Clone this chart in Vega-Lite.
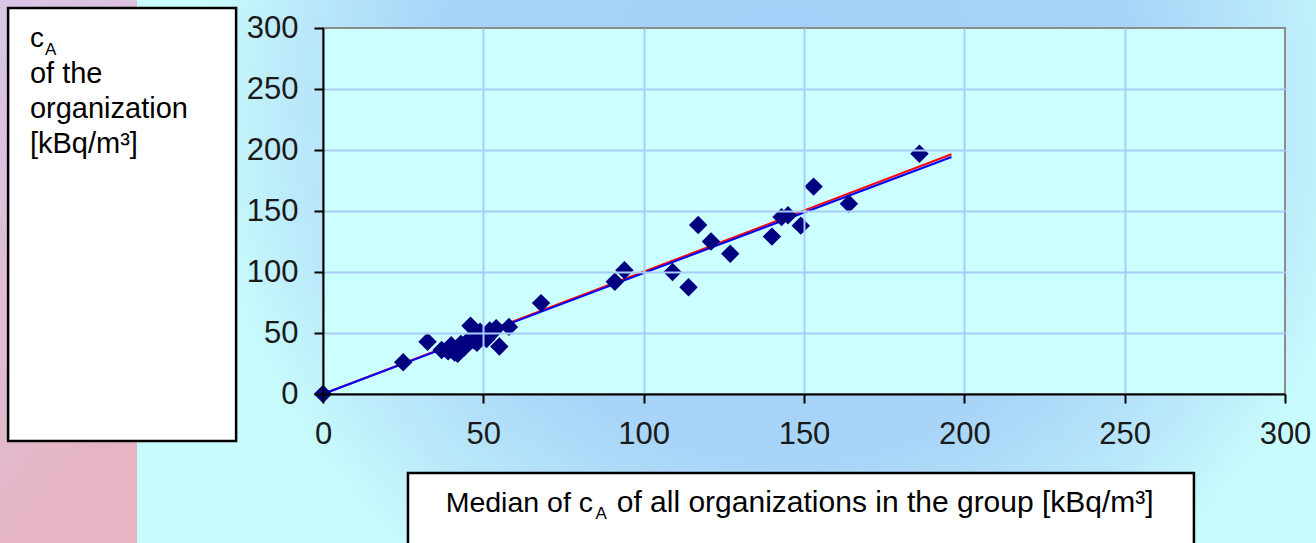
{
  "$schema": "https://vega.github.io/schema/vega-lite/v6.json",
  "width": 962,
  "height": 366,
  "autosize": {"type": "none"},
  "padding": {"left": 323, "top": 28, "right": 31, "bottom": 149},
  "background": "#c8fcfc",
  "config": {"view": {"stroke": null}},
  "datasets": {
    "points": [
      {"median": 0, "org": 0},
      {"median": 25, "org": 26},
      {"median": 32.6, "org": 42.9},
      {"median": 37, "org": 36},
      {"median": 39, "org": 35},
      {"median": 40, "org": 40},
      {"median": 41, "org": 34},
      {"median": 42, "org": 33},
      {"median": 43, "org": 41},
      {"median": 44, "org": 38},
      {"median": 45, "org": 43},
      {"median": 46, "org": 56},
      {"median": 47, "org": 44},
      {"median": 48, "org": 47},
      {"median": 48, "org": 42},
      {"median": 49, "org": 51},
      {"median": 50, "org": 48},
      {"median": 51, "org": 45},
      {"median": 52, "org": 52},
      {"median": 53, "org": 51},
      {"median": 54, "org": 54},
      {"median": 55, "org": 39},
      {"median": 58, "org": 55},
      {"median": 68, "org": 74.5},
      {"median": 91, "org": 92},
      {"median": 94, "org": 101.5},
      {"median": 109, "org": 100},
      {"median": 114, "org": 87.5},
      {"median": 117, "org": 138.5},
      {"median": 121, "org": 125},
      {"median": 127, "org": 115},
      {"median": 140, "org": 129},
      {"median": 143, "org": 145},
      {"median": 145, "org": 146.5},
      {"median": 149, "org": 138},
      {"median": 153, "org": 170},
      {"median": 164, "org": 156},
      {"median": 186, "org": 197}
    ],
    "lines": [
      {"fit": "red", "median": 0, "org": 0},
      {"fit": "red", "median": 196, "org": 196.5},
      {"fit": "blue", "median": 0, "org": 0},
      {"fit": "blue", "median": 196, "org": 194.3}
    ]
  },
  "layer": [
    {
      "data": {"values": [{}]},
      "mark": {"type": "rect", "fill": {"gradient": "linear", "x1": 0, "y1": 0, "x2": 0.3, "y2": 1, "stops": [{"offset": 0, "color": "#d8c6e8"}, {"offset": 1, "color": "#e6b4c2"}]}},
      "encoding": {
        "x": {"datum": -101, "type": "quantitative", "scale": {"domain": [0, 300], "nice": false}},
        "x2": {"datum": -58},
        "y": {"datum": 323, "type": "quantitative", "scale": {"domain": [0, 300], "nice": false}},
        "y2": {"datum": -123}
      }
    },
    {
      "data": {"values": [{}]},
      "mark": {"type": "rect", "fill": {"gradient": "radial", "x1": 0.55, "y1": 0.36, "r1": 0, "x2": 0.55, "y2": 0.36, "r2": 0.5, "stops": [{"offset": 0, "color": "#a2cef8"}, {"offset": 0.6, "color": "#a8d4f8"}, {"offset": 0.85, "color": "#bceafa"}, {"offset": 1, "color": "#c8fcfc"}]}},
      "encoding": {
        "x": {"datum": -58, "type": "quantitative"},
        "x2": {"datum": 311},
        "y": {"datum": 323, "type": "quantitative"},
        "y2": {"datum": -123}
      }
    },
    {
      "data": {"values": [{}]},
      "mark": {"type": "rect", "fill": "#ccffff", "stroke": "#8c8c8c", "strokeWidth": 2},
      "encoding": {
        "x": {"datum": 0, "type": "quantitative"},
        "x2": {"datum": 300},
        "y": {"datum": 0, "type": "quantitative"},
        "y2": {"datum": 300}
      }
    },
    {
      "data": {"values": [{}]},
      "mark": {"type": "rect", "fill": "#ffffff", "stroke": "#000000", "strokeWidth": 2.5},
      "encoding": {
        "x": {"datum": -98.2, "type": "quantitative"},
        "x2": {"datum": -27.1},
        "y": {"datum": 316.4, "type": "quantitative"},
        "y2": {"datum": -38.5}
      }
    },
    {
      "data": {"values": [{}]},
      "mark": {"type": "rect", "fill": "#ffffff", "stroke": "#000000", "strokeWidth": 2.5},
      "encoding": {
        "x": {"datum": 26.5, "type": "quantitative"},
        "x2": {"datum": 271.6},
        "y": {"datum": -64.8, "type": "quantitative"},
        "y2": {"datum": -135}
      }
    },
    {
      "data": {"values": [{}]},
      "mark": {"type": "text", "text": "c", "font": "Liberation Sans", "fontSize": 28, "align": "left", "baseline": "alphabetic", "color": "#000000"},
      "encoding": {"x": {"datum": -91.4, "type": "quantitative"}, "y": {"datum": 284.4, "type": "quantitative"}}
    },
    {
      "data": {"values": [{}]},
      "mark": {"type": "text", "text": "A", "font": "Liberation Sans", "fontSize": 17, "align": "left", "baseline": "alphabetic", "color": "#000000"},
      "encoding": {"x": {"datum": -86.7, "type": "quantitative"}, "y": {"datum": 277.9, "type": "quantitative"}}
    },
    {
      "data": {"values": [{}]},
      "mark": {"type": "text", "text": ["of the", "organization", "[kBq/m³]"], "font": "Liberation Sans", "fontSize": 29, "lineHeight": 35, "align": "left", "baseline": "alphabetic", "color": "#000000"},
      "encoding": {"x": {"datum": -91.4, "type": "quantitative"}, "y": {"datum": 254.9, "type": "quantitative"}}
    },
    {
      "data": {"values": [{}]},
      "mark": {"type": "text", "text": "Median of c", "font": "Liberation Sans", "fontSize": 28.5, "align": "right", "baseline": "alphabetic", "color": "#000000"},
      "encoding": {"x": {"datum": 84.2, "type": "quantitative"}, "y": {"datum": -96.7, "type": "quantitative"}}
    },
    {
      "data": {"values": [{}]},
      "mark": {"type": "text", "text": "A", "font": "Liberation Sans", "fontSize": 17, "align": "left", "baseline": "alphabetic", "color": "#000000"},
      "encoding": {"x": {"datum": 85.0, "type": "quantitative"}, "y": {"datum": -102.5, "type": "quantitative"}}
    },
    {
      "data": {"values": [{}]},
      "mark": {"type": "text", "text": "of all organizations in the group [kBq/m³]", "font": "Liberation Sans", "fontSize": 30, "align": "left", "baseline": "alphabetic", "color": "#000000"},
      "encoding": {"x": {"datum": 91.6, "type": "quantitative"}, "y": {"datum": -96.7, "type": "quantitative"}}
    },
    {
      "data": {"name": "lines"},
      "mark": {"type": "line", "strokeWidth": 2},
      "encoding": {
        "x": {
          "field": "median", "type": "quantitative",
          "axis": {"values": [0, 50, 100, 150, 200, 250, 300], "title": null, "zindex": 1, "domainColor": "#000000", "domainWidth": 2, "tickColor": "#000000", "tickWidth": 2, "tickSize": 9, "labelFont": "Liberation Sans", "labelFontSize": 31, "labelColor": "#1a1a1a", "labelPadding": 16, "labelFlush": false, "grid": true, "gridColor": "#a8ccf8", "gridWidth": 2, "gridOpacity": {"condition": {"test": "datum.value === 300 || datum.value === 0", "value": 0}, "value": 1}}
        },
        "y": {
          "field": "org", "type": "quantitative",
          "axis": {"values": [0, 50, 100, 150, 200, 250, 300], "title": null, "zindex": 1, "domainColor": "#000000", "domainWidth": 2, "tickColor": "#000000", "tickWidth": 2, "tickSize": 9, "labelFont": "Liberation Sans", "labelFontSize": 31, "labelColor": "#1a1a1a", "labelPadding": 16, "labelFlush": false, "grid": true, "gridColor": "#a8ccf8", "gridWidth": 2, "gridOpacity": {"condition": {"test": "datum.value === 300 || datum.value === 0", "value": 0}, "value": 1}}
        },
        "color": {"field": "fit", "type": "nominal", "scale": {"domain": ["red", "blue"], "range": ["#ff0000", "#0000ff"]}, "legend": null},
        "order": {"field": "median"}
      }
    },
    {
      "data": {"name": "points"},
      "mark": {"type": "point", "shape": "diamond", "filled": true, "size": 340, "color": "#000080", "opacity": 1},
      "encoding": {
        "x": {"field": "median", "type": "quantitative"},
        "y": {"field": "org", "type": "quantitative"}
      }
    }
  ]
}
